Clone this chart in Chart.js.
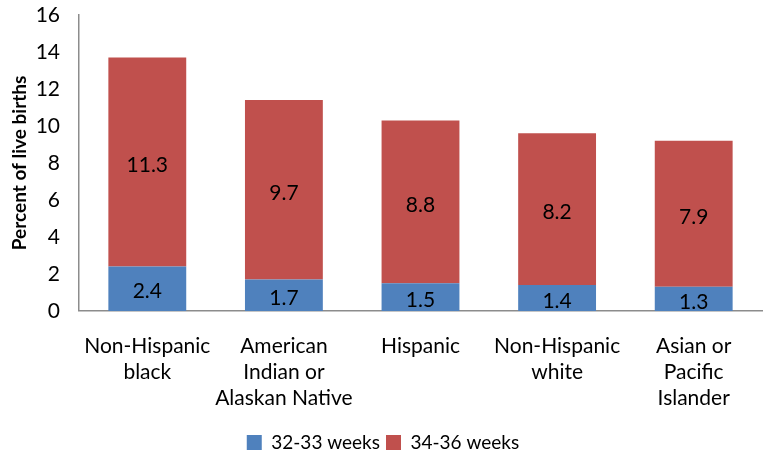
<!DOCTYPE html>
<html>
<head>
<meta charset="utf-8">
<script src="https://cdn.jsdelivr.net/npm/chart.js@4/dist/chart.umd.min.js"></script>
<style>
  html, body { margin: 0; padding: 0; background: #fff; }
  #wrap { width: 771px; height: 462px; }
</style>
</head>
<body>
<div id="wrap"><canvas id="chart" width="771" height="462"></canvas></div>
<script>
// Chart data
const categories = [
  ["Non-Hispanic", "black"],
  ["American", "Indian or", "Alaskan Native"],
  ["Hispanic"],
  ["Non-Hispanic", "white"],
  ["Asian or", "Pacific", "Islander"]
];
const weeks32to33 = [2.4, 1.7, 1.5, 1.4, 1.3];
const weeks34to36 = [11.3, 9.7, 8.8, 8.2, 7.9];
const yTicks = [0, 2, 4, 6, 8, 10, 12, 14, 16];

const FONT = "Lato, 'Open Sans', sans-serif";

// Draw the value in the middle of each bar segment
const barLabels = {
  id: "barLabels",
  afterDatasetsDraw(chart) {
    const ctx = chart.ctx;
    ctx.save();
    ctx.font = "21px " + FONT;
    ctx.fillStyle = "#000";
    ctx.textAlign = "center";
    ctx.textBaseline = "middle";
    chart.data.datasets.forEach((ds, i) => {
      chart.getDatasetMeta(i).data.forEach((bar, j) => {
        const mid = (bar.y + bar.base) / 2;
        ctx.fillText(ds.data[j].toFixed(1), bar.x, mid + 3);
      });
    });
    ctx.restore();
  }
};

const ctx = document.getElementById("chart").getContext("2d");
new Chart(ctx, {
  type: "bar",
  data: {
    labels: categories,
    datasets: [
      {
        label: "32-33 weeks",
        data: weeks32to33,
        backgroundColor: "#4F81BD",
        categoryPercentage: 0.57,
        barPercentage: 1
      },
      {
        label: "34-36 weeks",
        data: weeks34to36,
        backgroundColor: "#C0504D",
        categoryPercentage: 0.57,
        barPercentage: 1
      }
    ]
  },
  options: {
    responsive: false,
    animation: false,
    layout: { padding: { top: 15, right: 9, left: 4, bottom: 0 } },
    plugins: {
      legend: {
        position: "bottom",
        labels: {
          boxWidth: 15,
          boxHeight: 15,
          padding: 6,
          color: "#000",
          font: { family: FONT, size: 19 }
        }
      },
      tooltip: { enabled: false }
    },
    scales: {
      x: {
        stacked: true,
        grid: { display: false, drawTicks: false },
        border: { display: true, color: "#8c8c8c", width: 1.5 },
        // tick padding is meant as vertical gap only
        afterFit: (s) => { s.paddingLeft = 0; s.paddingRight = 0; s.height -= 6; },
        ticks: {
          color: "#000",
          padding: 22,
          maxRotation: 0,
          autoSkip: false,
          font: { family: FONT, size: 21, lineHeight: 1.24 }
        }
      },
      y: {
        stacked: true,
        min: 0,
        max: 16,
        afterBuildTicks: (axis) => { axis.ticks = yTicks.map(v => ({ value: v })); },
        afterFit: (s) => { s.paddingTop = 0; s.paddingBottom = 0; s.width = 75; },
        grid: { display: false, drawTicks: false },
        border: { display: true, color: "#8c8c8c", width: 1.5 },
        title: {
          display: true,
          text: "Percent of live births",
          color: "#000",
          font: { family: FONT, size: 19, weight: "bold" },
          padding: { top: 4, bottom: 4 }
        },
        ticks: {
          color: "#000",
          padding: 19,
          font: { family: FONT, size: 21, lineHeight: 1 }
        }
      }
    }
  },
  plugins: [barLabels]
});
</script>
</body>
</html>
